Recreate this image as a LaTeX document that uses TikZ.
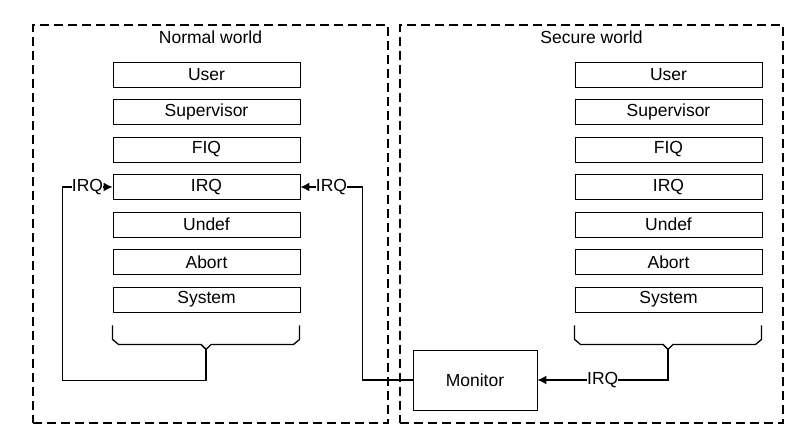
\documentclass[tikz,border=0pt]{standalone}
\usepackage{fontspec}
\setsansfont{Liberation Sans}
\usetikzlibrary{arrows.meta,positioning}
\tikzset{
    every node/.style={font=\sffamily\fontsize{17.5}{20}\selectfont},
    line/.style={-{Latex[length=9pt,width=9pt]}, line width=1.3pt},
    mode/.style={rectangle, draw, line width=0.9pt, minimum width=187pt, minimum height=25pt, inner sep=0pt},
    world/.style={rectangle, draw, line width=2pt, dash pattern=on 9pt off 5pt, inner sep=0pt},
    brace/.style={line width=1.3pt},
    lab/.style={fill=white, inner xsep=0pt, inner ysep=1pt}
}

\begin{document}
\begin{tikzpicture}[
    x=1pt, y=1pt,
    node distance=11.6pt and 16pt,
]
\useasboundingbox (0,0) rectangle (788,-435);

\node[world, minimum width=355pt, minimum height=398pt] (normal) at (210.5,-224) {};
\node[world, minimum width=383pt, minimum height=398pt] (secure) at (591.5,-224) {};
\node (ntitle) at ([yshift=-13pt]normal.north) {Normal world};
\node (stitle) at ([yshift=-13pt]secure.north) {Secure world};

% normal world modes
\node[mode] (luser) at (206.5,-74.5) {User};
\node[mode, below=of luser] (lsvc) {Supervisor};
\node[mode, below=of lsvc] (lfiq) {FIQ};
\node[mode, below=of lfiq] (lirq) {IRQ};
\node[mode, below=of lirq] (lund) {Undef};
\node[mode, below=of lund] (labt) {Abort};
\node[mode, below=of labt] (lsys) {System};

% secure world modes
\node[mode] (ruser) at (668.5,-74.5) {User};
\node[mode, below=of ruser] (rsvc) {Supervisor};
\node[mode, below=of rsvc] (rfiq) {FIQ};
\node[mode, below=of rfiq] (rirq) {IRQ};
\node[mode, below=of rirq] (rund) {Undef};
\node[mode, below=of rund] (rabt) {Abort};
\node[mode, below=of rabt] (rsys) {System};

\node[mode, minimum width=124pt, minimum height=60pt] (mon) at (475,-380) {Monitor};

% braces under the mode columns
\draw[brace] ([yshift=-13pt]lsys.south west) -- ++(0,-14) -- ++(6,-5) -- ++(82.5,0)
    -- ++(5,-5) coordinate (lbrace) -- ++(5,5) -- ++(82.5,0) -- ++(6,5) -- ++(0,14);
\draw[brace] ([yshift=-13pt]rsys.south west) -- ++(0,-14) -- ++(6,-5) -- ++(82.5,0)
    -- ++(5,-5) coordinate (rbrace) -- ++(5,5) -- ++(82.5,0) -- ++(6,5) -- ++(0,14);

\draw[line] (lbrace) -- ++(0,-31) -| ([xshift=-50pt]lirq.west) -- node[lab]{IRQ} (lirq.west);
\draw[line] (mon.west) -| ([xshift=62pt]lirq.east) -- node[lab]{IRQ} (lirq.east);
\draw[line] (rbrace) |- node[pos=0.75, lab]{IRQ} (mon.east);

\end{tikzpicture}
\end{document}
